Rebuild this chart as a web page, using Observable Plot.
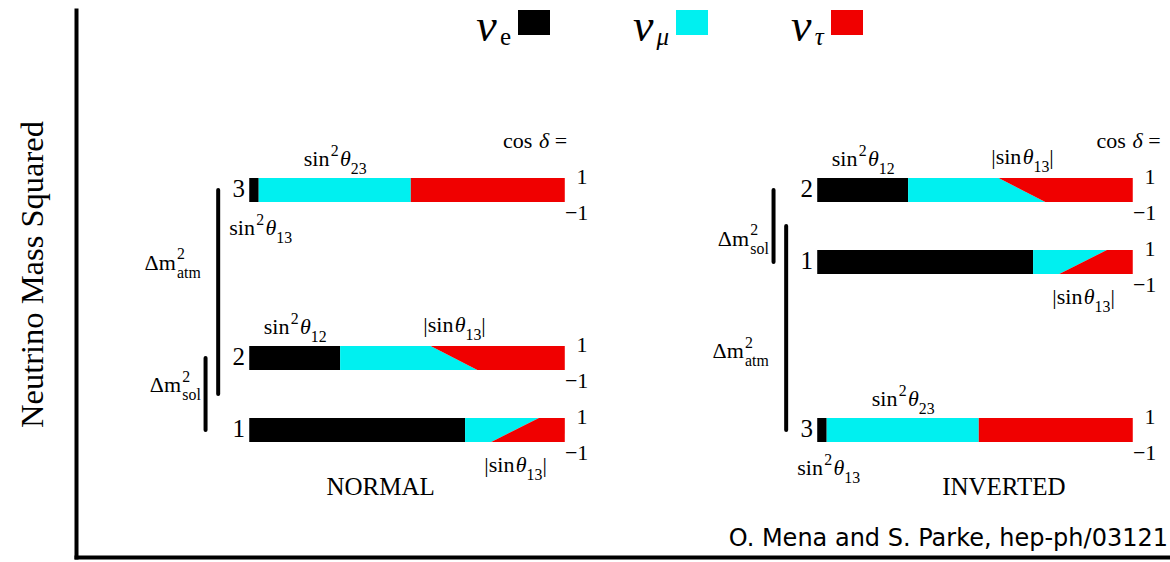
<!DOCTYPE html>
<html>
<head>
<meta charset="utf-8">
<script src="https://cdn.jsdelivr.net/npm/d3@7"></script>
<script src="https://cdn.jsdelivr.net/npm/@observablehq/plot@0.6"></script>
<style>
html, body { margin: 0; padding: 0; background: #fff; overflow: hidden; }
#wrap { position: relative; width: 1170px; height: 562px; overflow: hidden; }
#legend { position: absolute; left: 473px; top: 0px; display: flex; gap: 79.5px; align-items: baseline;
  font-family: "Liberation Serif", "Times New Roman", serif; font-size: 46px; line-height: 51px; }
#legend .item { white-space: nowrap; }
#legend .nu { font-style: italic; display: inline-block; width: 27px; text-align: center; }
#legend .sub { font-size: 25px; position: relative; top: 4px; }
#legend .sub.it { font-style: italic; }
#legend .sw { display: inline-block; width: 32px; height: 25px; margin-left: 7px; vertical-align: 6px; }
#caption { position: absolute; right: 2px; top: 526px; font-family: "DejaVu Sans", sans-serif;
  font-size: 24px; line-height: 24px; white-space: nowrap; color: #000; }
</style>
</head>
<body>
<div id="wrap"></div>
<script>
// ---------------- data ----------------
const flavours = ["νe", "νμ", "ντ"];
const flavourColors = ["#000000", "#00f0f0", "#f00000"];
const hierarchies = ["NORMAL", "INVERTED"];
const massStates = ["1", "2", "3"];
// |U_e i|^2 for mass states 1,2,3
const ueSquared = [0.684, 0.288, 0.030];
// |U_mu i|^2 at cos δ = +1 and cos δ = −1
const umuSquaredCosPlus = [0.234, 0.287, 0.482];
const umuSquaredCosMinus = [0.083, 0.435, 0.482];
// relative mass-squared level of states 1,2,3 (arbitrary units)
const levelNormal = [0, 3, 10];
const levelInverted = [7, 10, 0];
const cosDeltaValues = [1, -1];
const cosDeltaTickLabels = ["1", "−1"];
const splittingNames = ["sol", "atm"];
const yLabel = "Neutrino Mass Squared";
const captionText = "O. Mena and S. Parke, hep-ph/03121";

// ---------------- layout ----------------
const panelOffset = {NORMAL: 0, INVERTED: 1.8};
const levels = {NORMAL: levelNormal, INVERTED: levelInverted};
const titleX = {NORMAL: 0.415, INVERTED: 0.59};
const cosLabelX = {NORMAL: 1.006, INVERTED: 1.087};
const splitLineX = {sol: -0.14, atm: -0.10};
const splitLabelY = {NORMAL: {sol: 1.9, atm: 7}, INVERTED: {sol: 8, atm: 3.3}};

// bar segments as polygons (cos δ = +1 at top edge, −1 at bottom edge)
const segs = [];
for (const h of hierarchies) {
  const off = panelOffset[h], lv = levels[h];
  massStates.forEach((m, i) => {
    cosDeltaValues.forEach(c => {
      const y = lv[i] + 0.5 * c;
      const e = ueSquared[i];
      const mu = e + (c > 0 ? umuSquaredCosPlus[i] : umuSquaredCosMinus[i]);
      segs.push({key: `${h}-${m}-e`, flavour: flavours[0], y, x1: off, x2: off + e});
      segs.push({key: `${h}-${m}-mu`, flavour: flavours[1], y, x1: off + e, x2: off + mu});
      segs.push({key: `${h}-${m}-tau`, flavour: flavours[2], y, x1: off + mu, x2: off + 1});
    });
  });
}

const splits = [];
for (const h of hierarchies) {
  const off = panelOffset[h], lv = levels[h];
  splits.push({name: splittingNames[0], x: off + splitLineX.sol, y1: lv[0], y2: lv[1], lx: off - 0.155, ly: splitLabelY[h].sol});
  splits.push({name: splittingNames[1], x: off + splitLineX.atm, y1: lv[2], y2: (lv[0] + lv[1]) / 2, lx: off - 0.155, ly: splitLabelY[h].atm});
}

const stateLabels = hierarchies.flatMap(h => massStates.map((m, i) => ({text: m, x: panelOffset[h] - 0.015, y: levels[h][i] + 0.06})));
const tickLabels = hierarchies.flatMap(h => massStates.flatMap((m, i) => cosDeltaValues.map((c, j) => ({
  text: cosDeltaTickLabels[j],
  x: panelOffset[h] + 1 + (c > 0 ? 0.053 : 0.036),
  y: levels[h][i] + 0.5 * c + (c > 0 ? 0.08 : -0.42)
}))));

const notes = [];
for (const h of hierarchies) {
  const off = panelOffset[h], lv = levels[h];
  const b3 = ueSquared[2] + umuSquaredCosPlus[2];
  notes.push({text: "sin^{2}θ_{23}", x: off + (ueSquared[2] + b3) / 2, y: lv[2] + 0.5 + 0.8});
  notes.push({text: "sin^{2}θ_{12}", x: off + ueSquared[1] / 2, y: lv[1] + 0.5 + 0.8});
  const b2 = ueSquared[1] + (umuSquaredCosPlus[1] + umuSquaredCosMinus[1]) / 2;
  notes.push({text: "|sinθ_{13}|", x: off + b2, y: lv[1] + 0.5 + 0.9});
  const b1 = ueSquared[0] + (umuSquaredCosPlus[0] + umuSquaredCosMinus[0]) / 2;
  notes.push({text: "|sinθ_{13}|", x: off + b1, y: lv[0] - 0.5 - 0.95});
}
const startNotes = hierarchies.map(h => ({text: "sin^{2}θ_{13}", x: panelOffset[h] - 0.065, y: levels[h][2] - 0.5 - 1.06}));
const cosNotes = hierarchies.map(h => ({text: "cos δ =", x: panelOffset[h] + cosLabelX[h], y: Math.max(...levels[h]) + 2.08}));
const titles = hierarchies.map(h => ({text: h, x: panelOffset[h] + titleX[h], y: -2.375}));

const serif = "'Liberation Serif', 'Times New Roman', Times, serif";

const chart = Plot.plot({
  width: 1170,
  height: 562,
  marginLeft: 76, marginRight: 0, marginTop: 10, marginBottom: 5,
  x: {domain: [-0.549, 2.918], axis: null},
  y: {domain: [-5.2917, 17.5], axis: null},
  color: {domain: flavours, range: flavourColors},
  style: {fontFamily: serif, fontSize: "22px", background: "white", color: "black", overflow: "hidden"},
  marks: [
    Plot.frame({anchor: "left", strokeWidth: 4, strokeLinecap: "square"}),
    Plot.frame({anchor: "bottom", strokeWidth: 4, strokeLinecap: "square"}),
    Plot.text([yLabel], {text: d => d, frameAnchor: "left", textAnchor: "middle", lineAnchor: "middle", rotate: -90, dx: -44, dy: -9.5, fontSize: 32.5}),
    Plot.areaX(segs, {x1: "x1", x2: "x2", y: "y", z: "key", fill: "flavour", curve: "linear"}),
    Plot.ruleX(splits, {x: "x", y1: "y1", y2: "y2", strokeWidth: 4, strokeLinecap: "round"}),
    Plot.text(splits, {x: "lx", y: "ly", text: d => `Δm^{2}_{${d.name}}`, textAnchor: "end", fontSize: 22}),
    Plot.text(stateLabels, {x: "x", y: "y", text: "text", textAnchor: "end", fontSize: 25}),
    Plot.text(tickLabels, {x: "x", y: "y", text: "text", fontSize: 22}),
    Plot.text(notes, {x: "x", y: "y", text: "text", fontSize: 22}),
    Plot.text(startNotes, {x: "x", y: "y", text: "text", textAnchor: "start", fontSize: 22}),
    Plot.text(cosNotes, {x: "x", y: "y", text: "text", textAnchor: "end", fontSize: 22}),
    Plot.text(titles, {x: "x", y: "y", text: "text", fontSize: 25})
  ]
});

const wrap = document.getElementById("wrap");
wrap.appendChild(chart);

// rich text: ^{sup}, _{sub}, italic greek
function richText(svg) {
  svg.querySelectorAll("text").forEach(t => {
    const s = t.textContent;
    if (!/[\^_θδ]/.test(s)) return;
    const F = parseFloat(getComputedStyle(t).fontSize);
    const re = /\^\{([^}]*)\}|_\{([^}]*)\}|([θδ])|([^\^_θδ]+)/g;
    const tokens = [];
    let m;
    while ((m = re.exec(s))) {
      if (m[1] != null) tokens.push({type: "sup", s: m[1]});
      else if (m[2] != null) tokens.push({type: "sub", s: m[2]});
      else if (m[3]) tokens.push({type: "it", s: m[3]});
      else tokens.push({type: "n", s: m[4]});
    }
    t.textContent = "";
    let shift = 0, prevSup = null;
    tokens.forEach(tok => {
      const ts = document.createElementNS("http://www.w3.org/2000/svg", "tspan");
      ts.textContent = tok.s;
      let target = 0;
      if (tok.type === "sup") { target = -0.46 * F; ts.setAttribute("font-size", 0.72 * F); ts.setAttribute("dx", 0.06 * F); }
      else if (tok.type === "sub") { target = 0.37 * F; ts.setAttribute("font-size", 0.72 * F); }
      if (tok.type === "it") { ts.setAttribute("font-style", "italic"); ts.setAttribute("dx", 0.06 * F); }
      const d = target - shift;
      if (d) ts.setAttribute("dy", d);
      shift = target;
      t.appendChild(ts);
      if (tok.type === "sub" && prevSup) ts.setAttribute("dx", -prevSup.getComputedTextLength());
      prevSup = tok.type === "sup" ? ts : null;
    });
  });
}
richText(chart);

// legend (label then swatch)
const legend = document.createElement("div");
legend.id = "legend";
flavours.forEach((f, i) => {
  const item = document.createElement("span");
  item.className = "item";
  const nu = document.createElement("span");
  nu.className = "nu";
  nu.textContent = f[0];
  const sub = document.createElement("span");
  sub.className = "sub" + (i > 0 ? " it" : "");
  sub.textContent = f.slice(1);
  const sw = document.createElement("span");
  sw.className = "sw";
  sw.style.background = flavourColors[i];
  item.append(nu, sub, sw);
  legend.appendChild(item);
});
wrap.appendChild(legend);

const cap = document.createElement("div");
cap.id = "caption";
cap.textContent = captionText;
wrap.appendChild(cap);
</script>
</body>
</html>
